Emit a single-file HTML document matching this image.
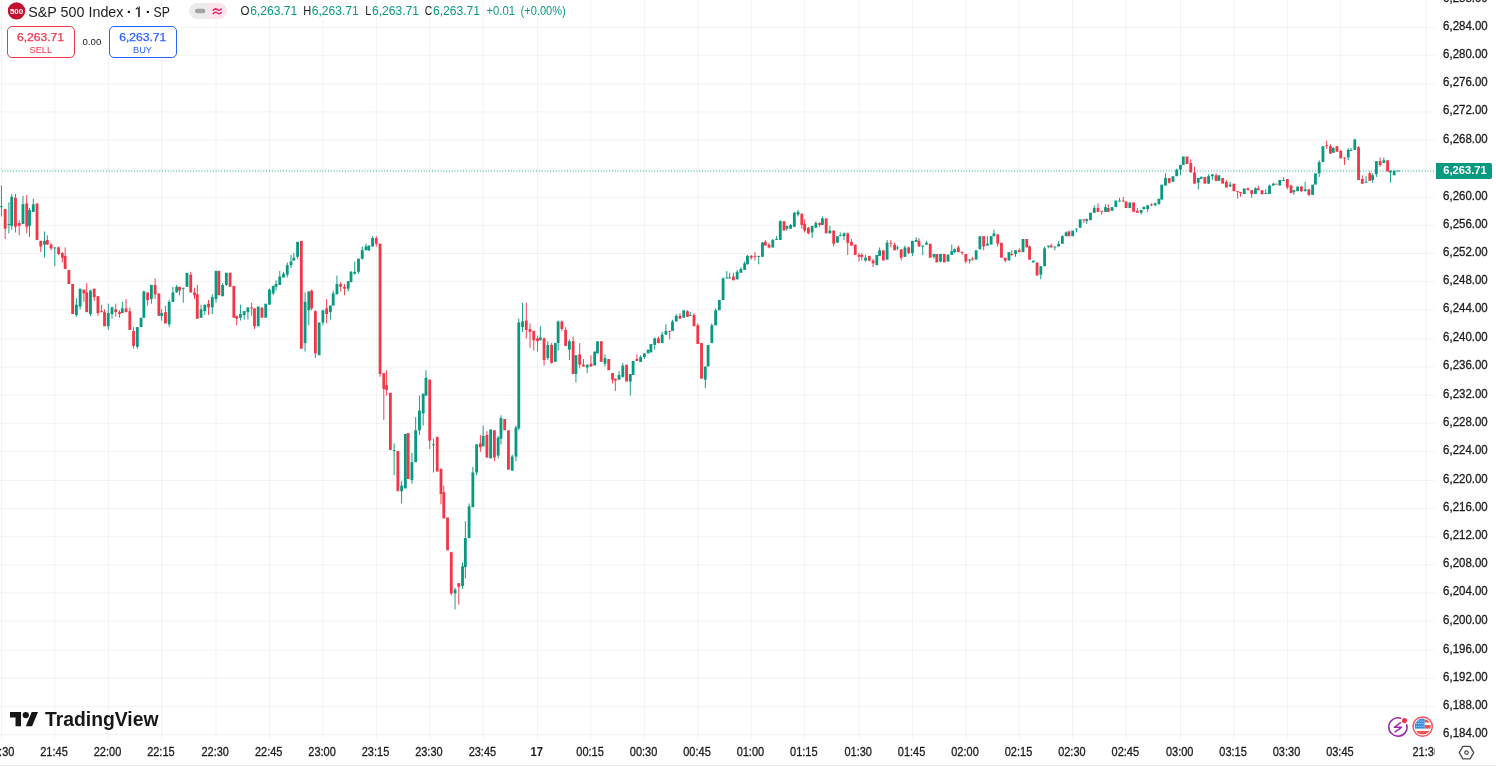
<!DOCTYPE html><html><head><meta charset="utf-8"><title>S&amp;P 500 Index chart</title><style>html,body{margin:0;padding:0;background:#fff;width:1496px;height:767px;overflow:hidden}</style></head><body><svg width="1496" height="767" viewBox="0 0 1496 767" style="position:absolute;left:0;top:0;will-change:transform;font-family:'Liberation Sans',sans-serif">
<rect width="1496" height="767" fill="#fff"/>
<g transform="translate(0,-0.1) scale(0.93725,0.93765)">
<g fill="rgba(0,0,0,0.055)">
<rect x="0" y="783" width="1521" height="1"/>
<rect x="0" y="753" width="1521" height="1"/>
<rect x="0" y="723" width="1521" height="1"/>
<rect x="0" y="693" width="1521" height="1"/>
<rect x="0" y="662" width="1521" height="1"/>
<rect x="0" y="632" width="1521" height="1"/>
<rect x="0" y="602" width="1521" height="1"/>
<rect x="0" y="572" width="1521" height="1"/>
<rect x="0" y="542" width="1521" height="1"/>
<rect x="0" y="512" width="1521" height="1"/>
<rect x="0" y="481" width="1521" height="1"/>
<rect x="0" y="451" width="1521" height="1"/>
<rect x="0" y="421" width="1521" height="1"/>
<rect x="0" y="391" width="1521" height="1"/>
<rect x="0" y="361" width="1521" height="1"/>
<rect x="0" y="330" width="1521" height="1"/>
<rect x="0" y="300" width="1521" height="1"/>
<rect x="0" y="270" width="1521" height="1"/>
<rect x="0" y="240" width="1521" height="1"/>
<rect x="0" y="210" width="1521" height="1"/>
<rect x="0" y="180" width="1521" height="1"/>
<rect x="0" y="149" width="1521" height="1"/>
<rect x="0" y="119" width="1521" height="1"/>
<rect x="0" y="89" width="1521" height="1"/>
<rect x="0" y="59" width="1521" height="1"/>
<rect x="0" y="29" width="1521" height="1"/>
<rect x="1" y="0" width="1" height="788"/>
<rect x="58" y="0" width="1" height="788"/>
<rect x="115" y="0" width="1" height="788"/>
<rect x="172" y="0" width="1" height="788"/>
<rect x="230" y="0" width="1" height="788"/>
<rect x="287" y="0" width="1" height="788"/>
<rect x="344" y="0" width="1" height="788"/>
<rect x="401" y="0" width="1" height="788"/>
<rect x="458" y="0" width="1" height="788"/>
<rect x="515" y="0" width="1" height="788"/>
<rect x="573" y="0" width="1" height="788"/>
<rect x="630" y="0" width="1" height="788"/>
<rect x="687" y="0" width="1" height="788"/>
<rect x="744" y="0" width="1" height="788"/>
<rect x="801" y="0" width="1" height="788"/>
<rect x="858" y="0" width="1" height="788"/>
<rect x="916" y="0" width="1" height="788"/>
<rect x="973" y="0" width="1" height="788"/>
<rect x="1030" y="0" width="1" height="788"/>
<rect x="1087" y="0" width="1" height="788"/>
<rect x="1144" y="0" width="1" height="788"/>
<rect x="1201" y="0" width="1" height="788"/>
<rect x="1259" y="0" width="1" height="788"/>
<rect x="1316" y="0" width="1" height="788"/>
<rect x="1373" y="0" width="1" height="788"/>
<rect x="1430" y="0" width="1" height="788"/>
<rect x="1521" y="0" width="1" height="788"/>
<rect x="1522" y="783" width="8.5" height="1"/>
<rect x="1522" y="753" width="8.5" height="1"/>
<rect x="1522" y="723" width="8.5" height="1"/>
<rect x="1522" y="693" width="8.5" height="1"/>
<rect x="1522" y="662" width="8.5" height="1"/>
<rect x="1522" y="632" width="8.5" height="1"/>
<rect x="1522" y="602" width="8.5" height="1"/>
<rect x="1522" y="572" width="8.5" height="1"/>
<rect x="1522" y="542" width="8.5" height="1"/>
<rect x="1522" y="512" width="8.5" height="1"/>
<rect x="1522" y="481" width="8.5" height="1"/>
<rect x="1522" y="451" width="8.5" height="1"/>
<rect x="1522" y="421" width="8.5" height="1"/>
<rect x="1522" y="391" width="8.5" height="1"/>
<rect x="1522" y="361" width="8.5" height="1"/>
<rect x="1522" y="330" width="8.5" height="1"/>
<rect x="1522" y="300" width="8.5" height="1"/>
<rect x="1522" y="270" width="8.5" height="1"/>
<rect x="1522" y="240" width="8.5" height="1"/>
<rect x="1522" y="210" width="8.5" height="1"/>
<rect x="1522" y="180" width="8.5" height="1"/>
<rect x="1522" y="149" width="8.5" height="1"/>
<rect x="1522" y="119" width="8.5" height="1"/>
<rect x="1522" y="89" width="8.5" height="1"/>
<rect x="1522" y="59" width="8.5" height="1"/>
<rect x="1522" y="29" width="8.5" height="1"/>
</g>
<rect x="0" y="816" width="1600" height="1" fill="#E6E6E6"/>
<line x1="0" y1="182.5" x2="1530" y2="182.5" stroke="#089981" stroke-width="1" stroke-dasharray="1 2" stroke-dashoffset="1"/>
<g>
<rect x="1" y="198" width="1" height="33" fill="#089981"/><rect x="0" y="220" width="3" height="1" fill="#089981"/>
<rect x="5" y="223" width="1" height="32" fill="#F23645"/><rect x="4" y="223" width="3" height="21" fill="#F23645"/>
<rect x="9" y="216" width="1" height="33" fill="#089981"/><rect x="8" y="239" width="3" height="1" fill="#089981"/>
<rect x="12" y="207" width="1" height="38" fill="#089981"/><rect x="11" y="210" width="3" height="31" fill="#089981"/>
<rect x="16" y="207" width="1" height="41" fill="#F23645"/><rect x="15" y="211" width="3" height="31" fill="#F23645"/>
<rect x="20" y="235" width="1" height="16" fill="#F23645"/><rect x="19" y="238" width="3" height="3" fill="#F23645"/>
<rect x="24" y="209" width="1" height="30" fill="#089981"/><rect x="23" y="218" width="3" height="21" fill="#089981"/>
<rect x="28" y="208" width="1" height="41" fill="#F23645"/><rect x="27" y="217" width="3" height="25" fill="#F23645"/>
<rect x="31" y="222" width="1" height="31" fill="#089981"/><rect x="30" y="224" width="3" height="17" fill="#089981"/>
<rect x="35" y="212" width="1" height="14" fill="#089981"/><rect x="34" y="218" width="3" height="8" fill="#089981"/>
<rect x="38" y="217" width="3" height="39" fill="#F23645"/>
<rect x="43" y="257" width="1" height="12" fill="#F23645"/><rect x="42" y="257" width="3" height="6" fill="#F23645"/>
<rect x="47" y="247" width="1" height="28" fill="#089981"/><rect x="46" y="257" width="3" height="4" fill="#089981"/>
<rect x="50" y="251" width="1" height="10" fill="#F23645"/><rect x="49" y="256" width="3" height="5" fill="#F23645"/>
<rect x="54" y="259" width="1" height="8" fill="#F23645"/><rect x="53" y="261" width="3" height="4" fill="#F23645"/>
<rect x="58" y="264" width="1" height="20" fill="#089981"/><rect x="57" y="264" width="3" height="1" fill="#089981"/>
<rect x="62" y="263" width="1" height="9" fill="#F23645"/><rect x="61" y="264" width="3" height="7" fill="#F23645"/>
<rect x="66" y="269" width="1" height="11" fill="#F23645"/><rect x="65" y="270" width="3" height="5" fill="#F23645"/>
<rect x="69" y="264" width="1" height="23" fill="#F23645"/><rect x="68" y="273" width="3" height="14" fill="#F23645"/>
<rect x="72" y="288" width="3" height="15" fill="#F23645"/>
<rect x="76" y="303" width="3" height="32" fill="#F23645"/>
<rect x="81" y="318" width="1" height="20" fill="#089981"/><rect x="80" y="325" width="3" height="11" fill="#089981"/>
<rect x="85" y="308" width="1" height="22" fill="#089981"/><rect x="84" y="308" width="3" height="19" fill="#089981"/>
<rect x="89" y="309" width="1" height="13" fill="#F23645"/><rect x="88" y="309" width="3" height="4" fill="#F23645"/>
<rect x="92" y="302" width="1" height="31" fill="#F23645"/><rect x="91" y="312" width="3" height="21" fill="#F23645"/>
<rect x="96" y="309" width="1" height="28" fill="#089981"/><rect x="95" y="310" width="3" height="25" fill="#089981"/>
<rect x="100" y="308" width="1" height="13" fill="#F23645"/><rect x="99" y="308" width="3" height="9" fill="#F23645"/>
<rect x="104" y="316" width="1" height="21" fill="#F23645"/><rect x="103" y="316" width="3" height="18" fill="#F23645"/>
<rect x="108" y="325" width="1" height="8" fill="#F23645"/><rect x="107" y="332" width="3" height="1" fill="#F23645"/>
<rect x="111" y="330" width="1" height="18" fill="#F23645"/><rect x="110" y="333" width="3" height="15" fill="#F23645"/>
<rect x="115" y="324" width="1" height="28" fill="#089981"/><rect x="114" y="334" width="3" height="14" fill="#089981"/>
<rect x="119" y="327" width="1" height="13" fill="#089981"/><rect x="118" y="328" width="3" height="7" fill="#089981"/>
<rect x="123" y="324" width="1" height="14" fill="#F23645"/><rect x="122" y="330" width="3" height="3" fill="#F23645"/>
<rect x="127" y="331" width="1" height="8" fill="#F23645"/><rect x="126" y="333" width="3" height="2" fill="#F23645"/>
<rect x="130" y="322" width="1" height="12" fill="#089981"/><rect x="129" y="329" width="3" height="5" fill="#089981"/>
<rect x="134" y="319" width="1" height="14" fill="#F23645"/><rect x="133" y="329" width="3" height="4" fill="#F23645"/>
<rect x="138" y="328" width="1" height="24" fill="#F23645"/><rect x="137" y="332" width="3" height="20" fill="#F23645"/>
<rect x="142" y="349" width="1" height="23" fill="#F23645"/><rect x="141" y="353" width="3" height="16" fill="#F23645"/>
<rect x="146" y="349" width="1" height="23" fill="#089981"/><rect x="145" y="349" width="3" height="21" fill="#089981"/>
<rect x="149" y="339" width="3" height="10" fill="#089981"/>
<rect x="153" y="310" width="1" height="29" fill="#089981"/><rect x="152" y="311" width="3" height="28" fill="#089981"/>
<rect x="157" y="312" width="1" height="14" fill="#F23645"/><rect x="156" y="312" width="3" height="8" fill="#F23645"/>
<rect x="161" y="304" width="1" height="20" fill="#089981"/><rect x="160" y="304" width="3" height="15" fill="#089981"/>
<rect x="165" y="297" width="1" height="22" fill="#F23645"/><rect x="164" y="304" width="3" height="10" fill="#F23645"/>
<rect x="168" y="313" width="3" height="24" fill="#F23645"/>
<rect x="172" y="330" width="1" height="12" fill="#089981"/><rect x="171" y="334" width="3" height="3" fill="#089981"/>
<rect x="176" y="326" width="1" height="19" fill="#F23645"/><rect x="175" y="333" width="3" height="12" fill="#F23645"/>
<rect x="180" y="320" width="1" height="29" fill="#089981"/><rect x="179" y="322" width="3" height="24" fill="#089981"/>
<rect x="184" y="306" width="1" height="16" fill="#089981"/><rect x="183" y="312" width="3" height="10" fill="#089981"/>
<rect x="188" y="304" width="1" height="8" fill="#089981"/><rect x="187" y="306" width="3" height="6" fill="#089981"/>
<rect x="191" y="306" width="1" height="9" fill="#F23645"/><rect x="190" y="306" width="3" height="4" fill="#F23645"/>
<rect x="195" y="307" width="1" height="16" fill="#089981"/><rect x="194" y="307" width="3" height="1" fill="#089981"/>
<rect x="198" y="291" width="3" height="15" fill="#089981"/>
<rect x="203" y="290" width="1" height="22" fill="#F23645"/><rect x="202" y="293" width="3" height="19" fill="#F23645"/>
<rect x="207" y="307" width="1" height="12" fill="#F23645"/><rect x="206" y="312" width="3" height="3" fill="#F23645"/>
<rect x="210" y="304" width="1" height="36" fill="#F23645"/><rect x="209" y="314" width="3" height="26" fill="#F23645"/>
<rect x="214" y="325" width="1" height="14" fill="#089981"/><rect x="213" y="330" width="3" height="9" fill="#089981"/>
<rect x="218" y="325" width="1" height="11" fill="#089981"/><rect x="217" y="325" width="3" height="7" fill="#089981"/>
<rect x="222" y="320" width="1" height="16" fill="#F23645"/><rect x="221" y="324" width="3" height="4" fill="#F23645"/>
<rect x="226" y="314" width="1" height="21" fill="#089981"/><rect x="225" y="317" width="3" height="11" fill="#089981"/>
<rect x="230" y="289" width="1" height="34" fill="#089981"/><rect x="229" y="289" width="3" height="30" fill="#089981"/>
<rect x="232" y="289" width="3" height="26" fill="#F23645"/>
<rect x="237" y="302" width="1" height="14" fill="#089981"/><rect x="236" y="304" width="3" height="12" fill="#089981"/>
<rect x="241" y="291" width="1" height="14" fill="#089981"/><rect x="240" y="291" width="3" height="13" fill="#089981"/>
<rect x="244" y="291" width="3" height="15" fill="#F23645"/>
<rect x="248" y="305" width="3" height="34" fill="#F23645"/>
<rect x="252" y="337" width="1" height="10" fill="#F23645"/><rect x="251" y="337" width="3" height="3" fill="#F23645"/>
<rect x="256" y="325" width="1" height="17" fill="#089981"/><rect x="255" y="335" width="3" height="4" fill="#089981"/>
<rect x="260" y="332" width="1" height="9" fill="#089981"/><rect x="259" y="332" width="3" height="4" fill="#089981"/>
<rect x="264" y="328" width="1" height="13" fill="#089981"/><rect x="263" y="328" width="3" height="5" fill="#089981"/>
<rect x="268" y="323" width="1" height="14" fill="#F23645"/><rect x="267" y="328" width="3" height="1" fill="#F23645"/>
<rect x="271" y="329" width="1" height="22" fill="#F23645"/><rect x="270" y="329" width="3" height="19" fill="#F23645"/>
<rect x="274" y="327" width="3" height="21" fill="#089981"/>
<rect x="278" y="328" width="3" height="11" fill="#F23645"/>
<rect x="282" y="324" width="3" height="15" fill="#089981"/>
<rect x="287" y="308" width="1" height="17" fill="#089981"/><rect x="286" y="309" width="3" height="16" fill="#089981"/>
<rect x="291" y="305" width="1" height="10" fill="#089981"/><rect x="290" y="305" width="3" height="8" fill="#089981"/>
<rect x="294" y="299" width="1" height="11" fill="#089981"/><rect x="293" y="303" width="3" height="3" fill="#089981"/>
<rect x="298" y="289" width="1" height="15" fill="#089981"/><rect x="297" y="295" width="3" height="9" fill="#089981"/>
<rect x="302" y="290" width="1" height="6" fill="#089981"/><rect x="301" y="292" width="3" height="4" fill="#089981"/>
<rect x="306" y="280" width="1" height="16" fill="#089981"/><rect x="305" y="283" width="3" height="10" fill="#089981"/>
<rect x="310" y="272" width="1" height="14" fill="#089981"/><rect x="309" y="279" width="3" height="4" fill="#089981"/>
<rect x="313" y="270" width="1" height="8" fill="#089981"/><rect x="312" y="275" width="3" height="3" fill="#089981"/>
<rect x="317" y="258" width="1" height="18" fill="#089981"/><rect x="316" y="258" width="3" height="16" fill="#089981"/>
<rect x="320" y="257" width="3" height="115" fill="#F23645"/>
<rect x="325" y="312" width="1" height="63" fill="#089981"/><rect x="324" y="322" width="3" height="44" fill="#089981"/>
<rect x="329" y="311" width="1" height="36" fill="#089981"/><rect x="328" y="311" width="3" height="20" fill="#089981"/>
<rect x="332" y="309" width="1" height="22" fill="#F23645"/><rect x="331" y="310" width="3" height="19" fill="#F23645"/>
<rect x="336" y="331" width="1" height="51" fill="#F23645"/><rect x="335" y="332" width="3" height="45" fill="#F23645"/>
<rect x="339" y="344" width="3" height="35" fill="#089981"/>
<rect x="344" y="331" width="1" height="16" fill="#089981"/><rect x="343" y="331" width="3" height="13" fill="#089981"/>
<rect x="348" y="319" width="1" height="26" fill="#F23645"/><rect x="347" y="329" width="3" height="6" fill="#F23645"/>
<rect x="352" y="326" width="1" height="15" fill="#089981"/><rect x="351" y="326" width="3" height="7" fill="#089981"/>
<rect x="355" y="310" width="1" height="16" fill="#089981"/><rect x="354" y="313" width="3" height="13" fill="#089981"/>
<rect x="359" y="294" width="1" height="20" fill="#089981"/><rect x="358" y="303" width="3" height="11" fill="#089981"/>
<rect x="363" y="301" width="1" height="10" fill="#F23645"/><rect x="362" y="303" width="3" height="3" fill="#F23645"/>
<rect x="367" y="303" width="1" height="12" fill="#F23645"/><rect x="366" y="306" width="3" height="2" fill="#F23645"/>
<rect x="371" y="300" width="1" height="11" fill="#089981"/><rect x="370" y="300" width="3" height="8" fill="#089981"/>
<rect x="374" y="289" width="1" height="12" fill="#089981"/><rect x="373" y="290" width="3" height="11" fill="#089981"/>
<rect x="378" y="279" width="1" height="14" fill="#089981"/><rect x="377" y="290" width="3" height="2" fill="#089981"/>
<rect x="382" y="276" width="1" height="16" fill="#089981"/><rect x="381" y="276" width="3" height="14" fill="#089981"/>
<rect x="386" y="263" width="1" height="14" fill="#089981"/><rect x="385" y="267" width="3" height="9" fill="#089981"/>
<rect x="390" y="260" width="1" height="7" fill="#089981"/><rect x="389" y="263" width="3" height="4" fill="#089981"/>
<rect x="393" y="262" width="1" height="6" fill="#089981"/><rect x="392" y="262" width="3" height="5" fill="#089981"/>
<rect x="397" y="252" width="1" height="11" fill="#089981"/><rect x="396" y="254" width="3" height="9" fill="#089981"/>
<rect x="401" y="252" width="1" height="11" fill="#F23645"/><rect x="400" y="254" width="3" height="6" fill="#F23645"/>
<rect x="405" y="260" width="1" height="142" fill="#F23645"/><rect x="404" y="260" width="3" height="139" fill="#F23645"/>
<rect x="409" y="398" width="1" height="50" fill="#F23645"/><rect x="408" y="398" width="3" height="17" fill="#F23645"/>
<rect x="412" y="395" width="1" height="27" fill="#F23645"/><rect x="411" y="411" width="3" height="5" fill="#F23645"/>
<rect x="415" y="419" width="3" height="61" fill="#F23645"/>
<rect x="420" y="473" width="1" height="34" fill="#089981"/><rect x="419" y="480" width="3" height="1" fill="#089981"/>
<rect x="423" y="481" width="3" height="43" fill="#F23645"/>
<rect x="428" y="513" width="1" height="24" fill="#089981"/><rect x="427" y="518" width="3" height="6" fill="#089981"/>
<rect x="431" y="463" width="3" height="58" fill="#089981"/>
<rect x="434" y="462" width="3" height="49" fill="#F23645"/>
<rect x="439" y="483" width="1" height="33" fill="#089981"/><rect x="438" y="493" width="3" height="19" fill="#089981"/>
<rect x="443" y="445" width="1" height="48" fill="#089981"/><rect x="442" y="459" width="3" height="34" fill="#089981"/>
<rect x="447" y="422" width="1" height="42" fill="#089981"/><rect x="446" y="438" width="3" height="21" fill="#089981"/>
<rect x="451" y="420" width="1" height="34" fill="#089981"/><rect x="450" y="420" width="3" height="21" fill="#089981"/>
<rect x="454" y="395" width="1" height="27" fill="#089981"/><rect x="453" y="403" width="3" height="19" fill="#089981"/>
<rect x="458" y="405" width="1" height="74" fill="#F23645"/><rect x="457" y="405" width="3" height="65" fill="#F23645"/>
<rect x="462" y="468" width="1" height="36" fill="#089981"/><rect x="461" y="474" width="3" height="1" fill="#089981"/>
<rect x="465" y="466" width="3" height="37" fill="#F23645"/>
<rect x="470" y="500" width="1" height="38" fill="#F23645"/><rect x="469" y="500" width="3" height="27" fill="#F23645"/>
<rect x="473" y="518" width="1" height="35" fill="#F23645"/><rect x="472" y="525" width="3" height="28" fill="#F23645"/>
<rect x="476" y="552" width="3" height="35" fill="#F23645"/>
<rect x="481" y="589" width="1" height="46" fill="#F23645"/><rect x="480" y="589" width="3" height="44" fill="#F23645"/>
<rect x="485" y="627" width="1" height="23" fill="#089981"/><rect x="484" y="629" width="3" height="4" fill="#089981"/>
<rect x="489" y="622" width="1" height="23" fill="#F23645"/><rect x="488" y="622" width="3" height="4" fill="#F23645"/>
<rect x="493" y="600" width="1" height="28" fill="#089981"/><rect x="492" y="604" width="3" height="21" fill="#089981"/>
<rect x="496" y="556" width="1" height="61" fill="#089981"/><rect x="495" y="574" width="3" height="31" fill="#089981"/>
<rect x="500" y="537" width="1" height="37" fill="#089981"/><rect x="499" y="540" width="3" height="34" fill="#089981"/>
<rect x="504" y="498" width="1" height="43" fill="#089981"/><rect x="503" y="504" width="3" height="37" fill="#089981"/>
<rect x="508" y="474" width="1" height="33" fill="#089981"/><rect x="507" y="474" width="3" height="30" fill="#089981"/>
<rect x="512" y="464" width="1" height="18" fill="#F23645"/><rect x="511" y="473" width="3" height="4" fill="#F23645"/>
<rect x="515" y="454" width="1" height="22" fill="#089981"/><rect x="514" y="465" width="3" height="11" fill="#089981"/>
<rect x="519" y="460" width="1" height="28" fill="#F23645"/><rect x="518" y="464" width="3" height="24" fill="#F23645"/>
<rect x="522" y="458" width="3" height="31" fill="#089981"/>
<rect x="527" y="459" width="1" height="33" fill="#F23645"/><rect x="526" y="459" width="3" height="29" fill="#F23645"/>
<rect x="531" y="465" width="1" height="24" fill="#089981"/><rect x="530" y="467" width="3" height="19" fill="#089981"/>
<rect x="534" y="443" width="1" height="31" fill="#089981"/><rect x="533" y="446" width="3" height="22" fill="#089981"/>
<rect x="537" y="447" width="3" height="12" fill="#F23645"/>
<rect x="541" y="459" width="3" height="42" fill="#F23645"/>
<rect x="546" y="485" width="1" height="17" fill="#089981"/><rect x="545" y="487" width="3" height="15" fill="#089981"/>
<rect x="550" y="454" width="1" height="38" fill="#089981"/><rect x="549" y="456" width="3" height="31" fill="#089981"/>
<rect x="553" y="340" width="1" height="119" fill="#089981"/><rect x="552" y="344" width="3" height="113" fill="#089981"/>
<rect x="557" y="323" width="1" height="31" fill="#089981"/><rect x="556" y="343" width="3" height="6" fill="#089981"/>
<rect x="561" y="323" width="1" height="38" fill="#F23645"/><rect x="560" y="342" width="3" height="10" fill="#F23645"/>
<rect x="565" y="345" width="1" height="26" fill="#F23645"/><rect x="564" y="351" width="3" height="3" fill="#F23645"/>
<rect x="569" y="353" width="1" height="21" fill="#F23645"/><rect x="568" y="353" width="3" height="10" fill="#F23645"/>
<rect x="573" y="358" width="1" height="17" fill="#F23645"/><rect x="572" y="361" width="3" height="3" fill="#F23645"/>
<rect x="576" y="348" width="1" height="15" fill="#089981"/><rect x="575" y="360" width="3" height="3" fill="#089981"/>
<rect x="580" y="360" width="1" height="30" fill="#F23645"/><rect x="579" y="361" width="3" height="23" fill="#F23645"/>
<rect x="584" y="364" width="1" height="20" fill="#089981"/><rect x="583" y="368" width="3" height="14" fill="#089981"/>
<rect x="588" y="366" width="1" height="22" fill="#F23645"/><rect x="587" y="368" width="3" height="19" fill="#F23645"/>
<rect x="591" y="366" width="3" height="20" fill="#089981"/>
<rect x="595" y="342" width="1" height="32" fill="#089981"/><rect x="594" y="343" width="3" height="23" fill="#089981"/>
<rect x="599" y="342" width="1" height="11" fill="#F23645"/><rect x="598" y="343" width="3" height="8" fill="#F23645"/>
<rect x="603" y="349" width="1" height="20" fill="#F23645"/><rect x="602" y="352" width="3" height="17" fill="#F23645"/>
<rect x="607" y="362" width="1" height="22" fill="#089981"/><rect x="606" y="364" width="3" height="9" fill="#089981"/>
<rect x="611" y="359" width="1" height="40" fill="#F23645"/><rect x="610" y="364" width="3" height="35" fill="#F23645"/>
<rect x="614" y="379" width="1" height="29" fill="#089981"/><rect x="613" y="379" width="3" height="20" fill="#089981"/>
<rect x="618" y="366" width="1" height="27" fill="#F23645"/><rect x="617" y="378" width="3" height="11" fill="#F23645"/>
<rect x="622" y="383" width="1" height="8" fill="#F23645"/><rect x="621" y="389" width="3" height="2" fill="#F23645"/>
<rect x="626" y="389" width="1" height="9" fill="#089981"/><rect x="625" y="389" width="3" height="3" fill="#089981"/>
<rect x="630" y="379" width="1" height="12" fill="#F23645"/><rect x="629" y="388" width="3" height="3" fill="#F23645"/>
<rect x="633" y="375" width="3" height="15" fill="#089981"/>
<rect x="636" y="364" width="3" height="13" fill="#089981"/>
<rect x="640" y="364" width="3" height="22" fill="#F23645"/>
<rect x="645" y="378" width="1" height="13" fill="#089981"/><rect x="644" y="382" width="3" height="6" fill="#089981"/>
<rect x="648" y="383" width="3" height="12" fill="#F23645"/>
<rect x="653" y="398" width="1" height="11" fill="#F23645"/><rect x="652" y="398" width="3" height="7" fill="#F23645"/>
<rect x="656" y="404" width="1" height="13" fill="#F23645"/><rect x="655" y="404" width="3" height="2" fill="#F23645"/>
<rect x="660" y="396" width="1" height="9" fill="#089981"/><rect x="659" y="400" width="3" height="5" fill="#089981"/>
<rect x="664" y="387" width="1" height="16" fill="#089981"/><rect x="663" y="390" width="3" height="12" fill="#089981"/>
<rect x="667" y="389" width="3" height="18" fill="#F23645"/>
<rect x="672" y="399" width="1" height="23" fill="#089981"/><rect x="671" y="399" width="3" height="8" fill="#089981"/>
<rect x="674" y="385" width="3" height="15" fill="#089981"/>
<rect x="679" y="378" width="1" height="7" fill="#F23645"/><rect x="678" y="383" width="3" height="2" fill="#F23645"/>
<rect x="683" y="379" width="1" height="7" fill="#089981"/><rect x="682" y="381" width="3" height="5" fill="#089981"/>
<rect x="687" y="377" width="1" height="6" fill="#089981"/><rect x="686" y="377" width="3" height="4" fill="#089981"/>
<rect x="690" y="373" width="3" height="4" fill="#089981"/>
<rect x="693" y="367" width="3" height="9" fill="#089981"/>
<rect x="698" y="360" width="1" height="13" fill="#089981"/><rect x="697" y="361" width="3" height="7" fill="#089981"/>
<rect x="702" y="359" width="1" height="7" fill="#F23645"/><rect x="701" y="361" width="3" height="5" fill="#F23645"/>
<rect x="706" y="354" width="1" height="12" fill="#089981"/><rect x="705" y="357" width="3" height="9" fill="#089981"/>
<rect x="710" y="346" width="1" height="11" fill="#089981"/><rect x="709" y="353" width="3" height="4" fill="#089981"/>
<rect x="714" y="353" width="1" height="9" fill="#F23645"/><rect x="713" y="353" width="3" height="1" fill="#F23645"/>
<rect x="717" y="341" width="1" height="12" fill="#089981"/><rect x="716" y="343" width="3" height="10" fill="#089981"/>
<rect x="721" y="335" width="1" height="8" fill="#089981"/><rect x="720" y="337" width="3" height="6" fill="#089981"/>
<rect x="725" y="334" width="1" height="6" fill="#F23645"/><rect x="724" y="337" width="3" height="3" fill="#F23645"/>
<rect x="728" y="331" width="3" height="8" fill="#089981"/>
<rect x="733" y="331" width="1" height="7" fill="#F23645"/><rect x="732" y="332" width="3" height="6" fill="#F23645"/>
<rect x="736" y="333" width="1" height="4" fill="#089981"/><rect x="735" y="336" width="3" height="1" fill="#089981"/>
<rect x="740" y="334" width="1" height="14" fill="#F23645"/><rect x="739" y="336" width="3" height="12" fill="#F23645"/>
<rect x="744" y="345" width="1" height="22" fill="#F23645"/><rect x="743" y="347" width="3" height="20" fill="#F23645"/>
<rect x="747" y="366" width="3" height="38" fill="#F23645"/>
<rect x="752" y="391" width="1" height="23" fill="#089981"/><rect x="751" y="391" width="3" height="14" fill="#089981"/>
<rect x="754" y="368" width="3" height="23" fill="#089981"/>
<rect x="759" y="345" width="1" height="21" fill="#089981"/><rect x="758" y="347" width="3" height="19" fill="#089981"/>
<rect x="763" y="329" width="1" height="18" fill="#089981"/><rect x="762" y="331" width="3" height="16" fill="#089981"/>
<rect x="766" y="320" width="3" height="11" fill="#089981"/>
<rect x="771" y="296" width="1" height="24" fill="#089981"/><rect x="770" y="297" width="3" height="23" fill="#089981"/>
<rect x="775" y="289" width="1" height="8" fill="#089981"/><rect x="774" y="296" width="3" height="1" fill="#089981"/>
<rect x="778" y="291" width="1" height="6" fill="#089981"/><rect x="777" y="296" width="3" height="1" fill="#089981"/>
<rect x="782" y="291" width="1" height="8" fill="#F23645"/><rect x="781" y="295" width="3" height="4" fill="#F23645"/>
<rect x="786" y="288" width="1" height="10" fill="#089981"/><rect x="785" y="290" width="3" height="8" fill="#089981"/>
<rect x="790" y="285" width="1" height="6" fill="#089981"/><rect x="789" y="287" width="3" height="4" fill="#089981"/>
<rect x="794" y="279" width="1" height="9" fill="#089981"/><rect x="793" y="281" width="3" height="7" fill="#089981"/>
<rect x="797" y="272" width="1" height="10" fill="#089981"/><rect x="796" y="273" width="3" height="9" fill="#089981"/>
<rect x="801" y="272" width="1" height="5" fill="#F23645"/><rect x="800" y="273" width="3" height="2" fill="#F23645"/>
<rect x="805" y="269" width="1" height="9" fill="#F23645"/><rect x="804" y="273" width="3" height="1" fill="#F23645"/>
<rect x="809" y="273" width="1" height="9" fill="#089981"/><rect x="808" y="273" width="3" height="1" fill="#089981"/>
<rect x="813" y="258" width="1" height="16" fill="#089981"/><rect x="812" y="259" width="3" height="15" fill="#089981"/>
<rect x="816" y="256" width="1" height="6" fill="#F23645"/><rect x="815" y="258" width="3" height="4" fill="#F23645"/>
<rect x="820" y="259" width="1" height="6" fill="#F23645"/><rect x="819" y="261" width="3" height="3" fill="#F23645"/>
<rect x="824" y="255" width="1" height="9" fill="#089981"/><rect x="823" y="256" width="3" height="8" fill="#089981"/>
<rect x="828" y="252" width="1" height="4" fill="#089981"/><rect x="827" y="255" width="3" height="1" fill="#089981"/>
<rect x="832" y="235" width="1" height="21" fill="#089981"/><rect x="831" y="236" width="3" height="20" fill="#089981"/>
<rect x="835" y="236" width="3" height="10" fill="#F23645"/>
<rect x="839" y="241" width="1" height="5" fill="#089981"/><rect x="838" y="241" width="3" height="3" fill="#089981"/>
<rect x="843" y="239" width="1" height="5" fill="#089981"/><rect x="842" y="240" width="3" height="4" fill="#089981"/>
<rect x="847" y="226" width="1" height="16" fill="#089981"/><rect x="846" y="227" width="3" height="15" fill="#089981"/>
<rect x="851" y="224" width="1" height="7" fill="#089981"/><rect x="850" y="226" width="3" height="3" fill="#089981"/>
<rect x="855" y="228" width="1" height="16" fill="#F23645"/><rect x="854" y="228" width="3" height="12" fill="#F23645"/>
<rect x="858" y="234" width="1" height="14" fill="#F23645"/><rect x="857" y="239" width="3" height="7" fill="#F23645"/>
<rect x="862" y="242" width="1" height="8" fill="#F23645"/><rect x="861" y="243" width="3" height="6" fill="#F23645"/>
<rect x="866" y="241" width="1" height="13" fill="#089981"/><rect x="865" y="241" width="3" height="7" fill="#089981"/>
<rect x="870" y="236" width="1" height="7" fill="#089981"/><rect x="869" y="238" width="3" height="5" fill="#089981"/>
<rect x="874" y="237" width="1" height="5" fill="#F23645"/><rect x="873" y="238" width="3" height="2" fill="#F23645"/>
<rect x="877" y="231" width="1" height="9" fill="#089981"/><rect x="876" y="233" width="3" height="7" fill="#089981"/>
<rect x="880" y="233" width="3" height="16" fill="#F23645"/>
<rect x="885" y="241" width="1" height="8" fill="#089981"/><rect x="884" y="246" width="3" height="3" fill="#089981"/>
<rect x="889" y="246" width="1" height="17" fill="#F23645"/><rect x="888" y="246" width="3" height="14" fill="#F23645"/>
<rect x="892" y="252" width="3" height="7" fill="#089981"/>
<rect x="896" y="248" width="1" height="4" fill="#089981"/><rect x="895" y="251" width="3" height="1" fill="#089981"/>
<rect x="900" y="248" width="1" height="8" fill="#089981"/><rect x="899" y="249" width="3" height="3" fill="#089981"/>
<rect x="904" y="248" width="1" height="24" fill="#F23645"/><rect x="903" y="249" width="3" height="10" fill="#F23645"/>
<rect x="908" y="255" width="1" height="7" fill="#F23645"/><rect x="907" y="258" width="3" height="4" fill="#F23645"/>
<rect x="911" y="261" width="3" height="11" fill="#F23645"/>
<rect x="916" y="270" width="1" height="9" fill="#F23645"/><rect x="915" y="272" width="3" height="2" fill="#F23645"/>
<rect x="919" y="270" width="1" height="8" fill="#F23645"/><rect x="918" y="272" width="3" height="2" fill="#F23645"/>
<rect x="923" y="272" width="1" height="7" fill="#089981"/><rect x="922" y="275" width="3" height="3" fill="#089981"/>
<rect x="927" y="273" width="1" height="6" fill="#F23645"/><rect x="926" y="273" width="3" height="5" fill="#F23645"/>
<rect x="931" y="276" width="1" height="9" fill="#F23645"/><rect x="930" y="278" width="3" height="3" fill="#F23645"/>
<rect x="934" y="272" width="3" height="11" fill="#089981"/>
<rect x="938" y="264" width="1" height="9" fill="#089981"/><rect x="937" y="267" width="3" height="6" fill="#089981"/>
<rect x="941" y="267" width="3" height="11" fill="#F23645"/>
<rect x="946" y="256" width="1" height="21" fill="#089981"/><rect x="945" y="259" width="3" height="18" fill="#089981"/>
<rect x="950" y="256" width="1" height="8" fill="#F23645"/><rect x="949" y="259" width="3" height="1" fill="#F23645"/>
<rect x="954" y="259" width="1" height="8" fill="#F23645"/><rect x="953" y="261" width="3" height="6" fill="#F23645"/>
<rect x="957" y="262" width="1" height="5" fill="#089981"/><rect x="956" y="264" width="3" height="1" fill="#089981"/>
<rect x="961" y="266" width="1" height="12" fill="#F23645"/><rect x="960" y="266" width="3" height="9" fill="#F23645"/>
<rect x="965" y="262" width="1" height="12" fill="#089981"/><rect x="964" y="264" width="3" height="10" fill="#089981"/>
<rect x="969" y="263" width="1" height="8" fill="#F23645"/><rect x="968" y="264" width="3" height="6" fill="#F23645"/>
<rect x="973" y="257" width="1" height="16" fill="#089981"/><rect x="972" y="257" width="3" height="13" fill="#089981"/>
<rect x="977" y="253" width="1" height="5" fill="#089981"/><rect x="976" y="256" width="3" height="2" fill="#089981"/>
<rect x="980" y="254" width="1" height="9" fill="#F23645"/><rect x="979" y="257" width="3" height="6" fill="#F23645"/>
<rect x="984" y="262" width="1" height="10" fill="#089981"/><rect x="983" y="262" width="3" height="1" fill="#089981"/>
<rect x="988" y="257" width="1" height="4" fill="#089981"/><rect x="987" y="259" width="3" height="2" fill="#089981"/>
<rect x="991" y="260" width="3" height="15" fill="#F23645"/>
<rect x="996" y="271" width="1" height="5" fill="#089981"/><rect x="995" y="271" width="3" height="3" fill="#089981"/>
<rect x="998" y="271" width="3" height="9" fill="#F23645"/>
<rect x="1003" y="271" width="1" height="9" fill="#089981"/><rect x="1002" y="271" width="3" height="8" fill="#089981"/>
<rect x="1006" y="271" width="3" height="9" fill="#F23645"/>
<rect x="1011" y="271" width="1" height="8" fill="#089981"/><rect x="1010" y="272" width="3" height="7" fill="#089981"/>
<rect x="1015" y="261" width="1" height="11" fill="#089981"/><rect x="1014" y="268" width="3" height="4" fill="#089981"/>
<rect x="1018" y="265" width="1" height="5" fill="#089981"/><rect x="1017" y="266" width="3" height="3" fill="#089981"/>
<rect x="1022" y="262" width="1" height="7" fill="#F23645"/><rect x="1021" y="264" width="3" height="5" fill="#F23645"/>
<rect x="1026" y="268" width="1" height="4" fill="#F23645"/><rect x="1025" y="269" width="3" height="1" fill="#F23645"/>
<rect x="1030" y="271" width="1" height="10" fill="#F23645"/><rect x="1029" y="271" width="3" height="8" fill="#F23645"/>
<rect x="1034" y="276" width="1" height="5" fill="#089981"/><rect x="1033" y="277" width="3" height="1" fill="#089981"/>
<rect x="1037" y="274" width="1" height="4" fill="#F23645"/><rect x="1036" y="276" width="3" height="1" fill="#F23645"/>
<rect x="1040" y="267" width="3" height="10" fill="#089981"/>
<rect x="1044" y="252" width="3" height="14" fill="#089981"/>
<rect x="1049" y="252" width="1" height="15" fill="#F23645"/><rect x="1048" y="252" width="3" height="11" fill="#F23645"/>
<rect x="1053" y="252" width="1" height="10" fill="#089981"/><rect x="1052" y="260" width="3" height="2" fill="#089981"/>
<rect x="1056" y="252" width="3" height="9" fill="#089981"/>
<rect x="1060" y="245" width="1" height="7" fill="#089981"/><rect x="1059" y="249" width="3" height="3" fill="#089981"/>
<rect x="1064" y="250" width="1" height="13" fill="#F23645"/><rect x="1063" y="250" width="3" height="10" fill="#F23645"/>
<rect x="1067" y="259" width="3" height="16" fill="#F23645"/>
<rect x="1072" y="275" width="1" height="5" fill="#F23645"/><rect x="1071" y="275" width="3" height="3" fill="#F23645"/>
<rect x="1075" y="269" width="3" height="9" fill="#089981"/>
<rect x="1079" y="267" width="1" height="6" fill="#F23645"/><rect x="1078" y="271" width="3" height="1" fill="#F23645"/>
<rect x="1083" y="267" width="1" height="7" fill="#089981"/><rect x="1082" y="267" width="3" height="4" fill="#089981"/>
<rect x="1087" y="265" width="1" height="4" fill="#F23645"/><rect x="1086" y="267" width="3" height="2" fill="#F23645"/>
<rect x="1090" y="255" width="3" height="14" fill="#089981"/>
<rect x="1094" y="255" width="3" height="9" fill="#F23645"/>
<rect x="1098" y="262" width="1" height="15" fill="#F23645"/><rect x="1097" y="263" width="3" height="14" fill="#F23645"/>
<rect x="1101" y="278" width="3" height="2" fill="#089981"/>
<rect x="1105" y="280" width="3" height="14" fill="#F23645"/>
<rect x="1110" y="284" width="1" height="14" fill="#089981"/><rect x="1109" y="284" width="3" height="9" fill="#089981"/>
<rect x="1114" y="263" width="1" height="21" fill="#089981"/><rect x="1113" y="265" width="3" height="19" fill="#089981"/>
<rect x="1118" y="262" width="1" height="3" fill="#089981"/><rect x="1117" y="262" width="3" height="1" fill="#089981"/>
<rect x="1121" y="260" width="1" height="4" fill="#F23645"/><rect x="1120" y="262" width="3" height="2" fill="#F23645"/>
<rect x="1125" y="263" width="1" height="4" fill="#089981"/><rect x="1124" y="263" width="3" height="1" fill="#089981"/>
<rect x="1129" y="257" width="1" height="6" fill="#089981"/><rect x="1128" y="260" width="3" height="3" fill="#089981"/>
<rect x="1133" y="251" width="1" height="9" fill="#089981"/><rect x="1132" y="252" width="3" height="8" fill="#089981"/>
<rect x="1137" y="247" width="1" height="5" fill="#089981"/><rect x="1136" y="248" width="3" height="4" fill="#089981"/>
<rect x="1140" y="246" width="1" height="6" fill="#F23645"/><rect x="1139" y="247" width="3" height="5" fill="#F23645"/>
<rect x="1143" y="246" width="3" height="6" fill="#089981"/>
<rect x="1148" y="244" width="1" height="4" fill="#089981"/><rect x="1147" y="244" width="3" height="1" fill="#089981"/>
<rect x="1151" y="234" width="3" height="9" fill="#089981"/>
<rect x="1156" y="234" width="1" height="4" fill="#F23645"/><rect x="1155" y="234" width="3" height="1" fill="#F23645"/>
<rect x="1159" y="233" width="1" height="6" fill="#089981"/><rect x="1158" y="234" width="3" height="2" fill="#089981"/>
<rect x="1162" y="227" width="3" height="8" fill="#089981"/>
<rect x="1167" y="219" width="1" height="8" fill="#089981"/><rect x="1166" y="222" width="3" height="5" fill="#089981"/>
<rect x="1171" y="217" width="1" height="9" fill="#F23645"/><rect x="1170" y="222" width="3" height="4" fill="#F23645"/>
<rect x="1175" y="225" width="1" height="4" fill="#F23645"/><rect x="1174" y="225" width="3" height="1" fill="#F23645"/>
<rect x="1179" y="218" width="1" height="8" fill="#089981"/><rect x="1178" y="221" width="3" height="5" fill="#089981"/>
<rect x="1182" y="218" width="1" height="8" fill="#F23645"/><rect x="1181" y="222" width="3" height="4" fill="#F23645"/>
<rect x="1185" y="221" width="3" height="4" fill="#089981"/>
<rect x="1189" y="214" width="3" height="7" fill="#089981"/>
<rect x="1194" y="211" width="1" height="4" fill="#089981"/><rect x="1193" y="214" width="3" height="1" fill="#089981"/>
<rect x="1198" y="210" width="1" height="5" fill="#F23645"/><rect x="1197" y="214" width="3" height="1" fill="#F23645"/>
<rect x="1200" y="215" width="3" height="7" fill="#F23645"/>
<rect x="1204" y="216" width="3" height="6" fill="#089981"/>
<rect x="1208" y="216" width="3" height="10" fill="#F23645"/>
<rect x="1213" y="222" width="1" height="5" fill="#F23645"/><rect x="1212" y="225" width="3" height="2" fill="#F23645"/>
<rect x="1217" y="224" width="1" height="5" fill="#089981"/><rect x="1216" y="224" width="3" height="3" fill="#089981"/>
<rect x="1220" y="220" width="1" height="4" fill="#089981"/><rect x="1219" y="221" width="3" height="2" fill="#089981"/>
<rect x="1224" y="219" width="1" height="7" fill="#089981"/><rect x="1223" y="219" width="3" height="4" fill="#089981"/>
<rect x="1228" y="217" width="1" height="3" fill="#F23645"/><rect x="1227" y="218" width="3" height="1" fill="#F23645"/>
<rect x="1232" y="216" width="1" height="4" fill="#089981"/><rect x="1231" y="217" width="3" height="2" fill="#089981"/>
<rect x="1235" y="212" width="3" height="6" fill="#089981"/>
<rect x="1238" y="197" width="3" height="16" fill="#089981"/>
<rect x="1243" y="185" width="1" height="13" fill="#089981"/><rect x="1242" y="190" width="3" height="8" fill="#089981"/>
<rect x="1247" y="190" width="1" height="6" fill="#F23645"/><rect x="1246" y="190" width="3" height="5" fill="#F23645"/>
<rect x="1250" y="188" width="3" height="6" fill="#089981"/>
<rect x="1255" y="180" width="1" height="8" fill="#089981"/><rect x="1254" y="181" width="3" height="7" fill="#089981"/>
<rect x="1259" y="176" width="1" height="11" fill="#089981"/><rect x="1258" y="176" width="3" height="5" fill="#089981"/>
<rect x="1261" y="167" width="3" height="9" fill="#089981"/>
<rect x="1265" y="167" width="3" height="8" fill="#F23645"/>
<rect x="1270" y="170" width="1" height="14" fill="#F23645"/><rect x="1269" y="174" width="3" height="10" fill="#F23645"/>
<rect x="1274" y="178" width="1" height="18" fill="#F23645"/><rect x="1273" y="184" width="3" height="12" fill="#F23645"/>
<rect x="1278" y="190" width="1" height="12" fill="#089981"/><rect x="1277" y="190" width="3" height="5" fill="#089981"/>
<rect x="1281" y="188" width="1" height="3" fill="#089981"/><rect x="1280" y="189" width="3" height="2" fill="#089981"/>
<rect x="1284" y="189" width="3" height="7" fill="#F23645"/>
<rect x="1289" y="186" width="1" height="10" fill="#089981"/><rect x="1288" y="188" width="3" height="8" fill="#089981"/>
<rect x="1293" y="186" width="1" height="6" fill="#089981"/><rect x="1292" y="186" width="3" height="2" fill="#089981"/>
<rect x="1297" y="185" width="1" height="8" fill="#F23645"/><rect x="1296" y="187" width="3" height="6" fill="#F23645"/>
<rect x="1299" y="187" width="3" height="6" fill="#089981"/>
<rect x="1303" y="190" width="3" height="6" fill="#F23645"/>
<rect x="1308" y="192" width="1" height="8" fill="#F23645"/><rect x="1307" y="194" width="3" height="6" fill="#F23645"/>
<rect x="1312" y="194" width="1" height="5" fill="#089981"/><rect x="1311" y="197" width="3" height="2" fill="#089981"/>
<rect x="1315" y="196" width="3" height="8" fill="#F23645"/>
<rect x="1320" y="204" width="1" height="8" fill="#F23645"/><rect x="1319" y="204" width="3" height="1" fill="#F23645"/>
<rect x="1323" y="205" width="1" height="5" fill="#F23645"/><rect x="1322" y="205" width="3" height="1" fill="#F23645"/>
<rect x="1326" y="201" width="3" height="6" fill="#089981"/>
<rect x="1331" y="200" width="1" height="3" fill="#F23645"/><rect x="1330" y="201" width="3" height="2" fill="#F23645"/>
<rect x="1335" y="203" width="1" height="8" fill="#F23645"/><rect x="1334" y="203" width="3" height="4" fill="#F23645"/>
<rect x="1339" y="200" width="1" height="7" fill="#089981"/><rect x="1338" y="201" width="3" height="6" fill="#089981"/>
<rect x="1342" y="198" width="1" height="5" fill="#F23645"/><rect x="1341" y="201" width="3" height="2" fill="#F23645"/>
<rect x="1346" y="203" width="1" height="5" fill="#F23645"/><rect x="1345" y="203" width="3" height="4" fill="#F23645"/>
<rect x="1350" y="202" width="1" height="5" fill="#089981"/><rect x="1349" y="206" width="3" height="1" fill="#089981"/>
<rect x="1354" y="197" width="1" height="10" fill="#089981"/><rect x="1353" y="198" width="3" height="9" fill="#089981"/>
<rect x="1358" y="195" width="1" height="3" fill="#089981"/><rect x="1357" y="196" width="3" height="2" fill="#089981"/>
<rect x="1360" y="196" width="3" height="1" fill="#F23645"/>
<rect x="1364" y="192" width="3" height="6" fill="#089981"/>
<rect x="1369" y="189" width="1" height="4" fill="#089981"/><rect x="1368" y="192" width="3" height="1" fill="#089981"/>
<rect x="1373" y="191" width="1" height="11" fill="#F23645"/><rect x="1372" y="191" width="3" height="9" fill="#F23645"/>
<rect x="1377" y="197" width="1" height="9" fill="#F23645"/><rect x="1376" y="198" width="3" height="8" fill="#F23645"/>
<rect x="1380" y="203" width="1" height="5" fill="#089981"/><rect x="1379" y="203" width="3" height="2" fill="#089981"/>
<rect x="1383" y="199" width="3" height="5" fill="#089981"/>
<rect x="1388" y="199" width="1" height="6" fill="#F23645"/><rect x="1387" y="199" width="3" height="5" fill="#F23645"/>
<rect x="1392" y="194" width="1" height="10" fill="#089981"/><rect x="1391" y="202" width="3" height="2" fill="#089981"/>
<rect x="1396" y="202" width="1" height="7" fill="#F23645"/><rect x="1395" y="202" width="3" height="6" fill="#F23645"/>
<rect x="1399" y="197" width="3" height="11" fill="#089981"/>
<rect x="1402" y="185" width="3" height="12" fill="#089981"/>
<rect x="1407" y="171" width="1" height="18" fill="#089981"/><rect x="1406" y="173" width="3" height="12" fill="#089981"/>
<rect x="1410" y="156" width="3" height="17" fill="#089981"/>
<rect x="1415" y="150" width="1" height="9" fill="#F23645"/><rect x="1414" y="155" width="3" height="1" fill="#F23645"/>
<rect x="1419" y="154" width="1" height="10" fill="#F23645"/><rect x="1418" y="156" width="3" height="8" fill="#F23645"/>
<rect x="1422" y="157" width="1" height="6" fill="#089981"/><rect x="1421" y="158" width="3" height="5" fill="#089981"/>
<rect x="1425" y="156" width="3" height="6" fill="#F23645"/>
<rect x="1430" y="160" width="1" height="9" fill="#F23645"/><rect x="1429" y="161" width="3" height="8" fill="#F23645"/>
<rect x="1434" y="168" width="1" height="8" fill="#F23645"/><rect x="1433" y="168" width="3" height="1" fill="#F23645"/>
<rect x="1438" y="158" width="1" height="13" fill="#089981"/><rect x="1437" y="160" width="3" height="8" fill="#089981"/>
<rect x="1441" y="158" width="1" height="3" fill="#089981"/><rect x="1440" y="160" width="3" height="1" fill="#089981"/>
<rect x="1445" y="148" width="1" height="12" fill="#089981"/><rect x="1444" y="149" width="3" height="11" fill="#089981"/>
<rect x="1449" y="156" width="1" height="36" fill="#F23645"/><rect x="1448" y="157" width="3" height="35" fill="#F23645"/>
<rect x="1453" y="187" width="1" height="9" fill="#F23645"/><rect x="1452" y="191" width="3" height="5" fill="#F23645"/>
<rect x="1457" y="188" width="1" height="7" fill="#089981"/><rect x="1456" y="194" width="3" height="1" fill="#089981"/>
<rect x="1461" y="183" width="1" height="10" fill="#F23645"/><rect x="1460" y="185" width="3" height="8" fill="#F23645"/>
<rect x="1464" y="185" width="1" height="10" fill="#089981"/><rect x="1463" y="187" width="3" height="5" fill="#089981"/>
<rect x="1468" y="172" width="1" height="17" fill="#089981"/><rect x="1467" y="172" width="3" height="14" fill="#089981"/>
<rect x="1472" y="168" width="1" height="10" fill="#F23645"/><rect x="1471" y="172" width="3" height="4" fill="#F23645"/>
<rect x="1476" y="168" width="1" height="6" fill="#089981"/><rect x="1475" y="171" width="3" height="3" fill="#089981"/>
<rect x="1479" y="171" width="3" height="12" fill="#F23645"/>
<rect x="1483" y="182" width="1" height="13" fill="#089981"/><rect x="1482" y="182" width="3" height="2" fill="#089981"/>
<rect x="1486" y="182" width="3" height="5" fill="#089981"/>
<rect x="1490" y="182" width="4" height="1" fill="#089981"/>
</g>
</g>
<text x="1443.1" y="737.00" font-size="12" fill="#1c1c1c" font-weight="normal" text-anchor="start" textLength="44.6" lengthAdjust="spacingAndGlyphs" stroke="#1c1c1c" stroke-width="0.3">6,184.00</text>
<text x="1443.1" y="708.87" font-size="12" fill="#1c1c1c" font-weight="normal" text-anchor="start" textLength="44.6" lengthAdjust="spacingAndGlyphs" stroke="#1c1c1c" stroke-width="0.3">6,188.00</text>
<text x="1443.1" y="680.74" font-size="12" fill="#1c1c1c" font-weight="normal" text-anchor="start" textLength="44.6" lengthAdjust="spacingAndGlyphs" stroke="#1c1c1c" stroke-width="0.3">6,192.00</text>
<text x="1443.1" y="652.61" font-size="12" fill="#1c1c1c" font-weight="normal" text-anchor="start" textLength="44.6" lengthAdjust="spacingAndGlyphs" stroke="#1c1c1c" stroke-width="0.3">6,196.00</text>
<text x="1443.1" y="623.54" font-size="12" fill="#1c1c1c" font-weight="normal" text-anchor="start" textLength="44.6" lengthAdjust="spacingAndGlyphs" stroke="#1c1c1c" stroke-width="0.3">6,200.00</text>
<text x="1443.1" y="595.41" font-size="12" fill="#1c1c1c" font-weight="normal" text-anchor="start" textLength="44.6" lengthAdjust="spacingAndGlyphs" stroke="#1c1c1c" stroke-width="0.3">6,204.00</text>
<text x="1443.1" y="567.28" font-size="12" fill="#1c1c1c" font-weight="normal" text-anchor="start" textLength="44.6" lengthAdjust="spacingAndGlyphs" stroke="#1c1c1c" stroke-width="0.3">6,208.00</text>
<text x="1443.1" y="539.15" font-size="12" fill="#1c1c1c" font-weight="normal" text-anchor="start" textLength="44.6" lengthAdjust="spacingAndGlyphs" stroke="#1c1c1c" stroke-width="0.3">6,212.00</text>
<text x="1443.1" y="511.03" font-size="12" fill="#1c1c1c" font-weight="normal" text-anchor="start" textLength="44.6" lengthAdjust="spacingAndGlyphs" stroke="#1c1c1c" stroke-width="0.3">6,216.00</text>
<text x="1443.1" y="482.90" font-size="12" fill="#1c1c1c" font-weight="normal" text-anchor="start" textLength="44.6" lengthAdjust="spacingAndGlyphs" stroke="#1c1c1c" stroke-width="0.3">6,220.00</text>
<text x="1443.1" y="453.83" font-size="12" fill="#1c1c1c" font-weight="normal" text-anchor="start" textLength="44.6" lengthAdjust="spacingAndGlyphs" stroke="#1c1c1c" stroke-width="0.3">6,224.00</text>
<text x="1443.1" y="425.70" font-size="12" fill="#1c1c1c" font-weight="normal" text-anchor="start" textLength="44.6" lengthAdjust="spacingAndGlyphs" stroke="#1c1c1c" stroke-width="0.3">6,228.00</text>
<text x="1443.1" y="397.57" font-size="12" fill="#1c1c1c" font-weight="normal" text-anchor="start" textLength="44.6" lengthAdjust="spacingAndGlyphs" stroke="#1c1c1c" stroke-width="0.3">6,232.00</text>
<text x="1443.1" y="369.44" font-size="12" fill="#1c1c1c" font-weight="normal" text-anchor="start" textLength="44.6" lengthAdjust="spacingAndGlyphs" stroke="#1c1c1c" stroke-width="0.3">6,236.00</text>
<text x="1443.1" y="341.31" font-size="12" fill="#1c1c1c" font-weight="normal" text-anchor="start" textLength="44.6" lengthAdjust="spacingAndGlyphs" stroke="#1c1c1c" stroke-width="0.3">6,240.00</text>
<text x="1443.1" y="312.24" font-size="12" fill="#1c1c1c" font-weight="normal" text-anchor="start" textLength="44.6" lengthAdjust="spacingAndGlyphs" stroke="#1c1c1c" stroke-width="0.3">6,244.00</text>
<text x="1443.1" y="284.11" font-size="12" fill="#1c1c1c" font-weight="normal" text-anchor="start" textLength="44.6" lengthAdjust="spacingAndGlyphs" stroke="#1c1c1c" stroke-width="0.3">6,248.00</text>
<text x="1443.1" y="255.98" font-size="12" fill="#1c1c1c" font-weight="normal" text-anchor="start" textLength="44.6" lengthAdjust="spacingAndGlyphs" stroke="#1c1c1c" stroke-width="0.3">6,252.00</text>
<text x="1443.1" y="227.85" font-size="12" fill="#1c1c1c" font-weight="normal" text-anchor="start" textLength="44.6" lengthAdjust="spacingAndGlyphs" stroke="#1c1c1c" stroke-width="0.3">6,256.00</text>
<text x="1443.1" y="199.73" font-size="12" fill="#1c1c1c" font-weight="normal" text-anchor="start" textLength="44.6" lengthAdjust="spacingAndGlyphs" stroke="#1c1c1c" stroke-width="0.3">6,260.00</text>
<text x="1443.1" y="142.53" font-size="12" fill="#1c1c1c" font-weight="normal" text-anchor="start" textLength="44.6" lengthAdjust="spacingAndGlyphs" stroke="#1c1c1c" stroke-width="0.3">6,268.00</text>
<text x="1443.1" y="114.40" font-size="12" fill="#1c1c1c" font-weight="normal" text-anchor="start" textLength="44.6" lengthAdjust="spacingAndGlyphs" stroke="#1c1c1c" stroke-width="0.3">6,272.00</text>
<text x="1443.1" y="86.27" font-size="12" fill="#1c1c1c" font-weight="normal" text-anchor="start" textLength="44.6" lengthAdjust="spacingAndGlyphs" stroke="#1c1c1c" stroke-width="0.3">6,276.00</text>
<text x="1443.1" y="58.14" font-size="12" fill="#1c1c1c" font-weight="normal" text-anchor="start" textLength="44.6" lengthAdjust="spacingAndGlyphs" stroke="#1c1c1c" stroke-width="0.3">6,280.00</text>
<text x="1443.1" y="30.01" font-size="12" fill="#1c1c1c" font-weight="normal" text-anchor="start" textLength="44.6" lengthAdjust="spacingAndGlyphs" stroke="#1c1c1c" stroke-width="0.3">6,284.00</text>
<text x="1443.1" y="1.60" font-size="12" fill="#1c1c1c" font-weight="normal" text-anchor="start" textLength="44.6" lengthAdjust="spacingAndGlyphs" stroke="#1c1c1c" stroke-width="0.3">6,288.00</text>
<path d="M1436 163h54a2 2 0 0 1 2 2v12a2 2 0 0 1 -2 2h-54z" fill="#089981"/>
<text x="1443.2" y="173.9" font-size="11" fill="#fff" font-weight="bold" text-anchor="start" textLength="43.6" lengthAdjust="spacingAndGlyphs" >6,263.71</text>
<clipPath id="tc"><rect x="0" y="739" width="1434.5" height="28"/></clipPath><g clip-path="url(#tc)">
<text x="0.6" y="755.7" font-size="12" fill="#1c1c1c" font-weight="normal" text-anchor="middle" textLength="27.5" lengthAdjust="spacingAndGlyphs" stroke="#1c1c1c" stroke-width="0.3">21:30</text>
<text x="54.0" y="755.7" font-size="12" fill="#1c1c1c" font-weight="normal" text-anchor="middle" textLength="27.5" lengthAdjust="spacingAndGlyphs" stroke="#1c1c1c" stroke-width="0.3">21:45</text>
<text x="107.5" y="755.7" font-size="12" fill="#1c1c1c" font-weight="normal" text-anchor="middle" textLength="27.5" lengthAdjust="spacingAndGlyphs" stroke="#1c1c1c" stroke-width="0.3">22:00</text>
<text x="160.9" y="755.7" font-size="12" fill="#1c1c1c" font-weight="normal" text-anchor="middle" textLength="27.5" lengthAdjust="spacingAndGlyphs" stroke="#1c1c1c" stroke-width="0.3">22:15</text>
<text x="215.2" y="755.7" font-size="12" fill="#1c1c1c" font-weight="normal" text-anchor="middle" textLength="27.5" lengthAdjust="spacingAndGlyphs" stroke="#1c1c1c" stroke-width="0.3">22:30</text>
<text x="268.7" y="755.7" font-size="12" fill="#1c1c1c" font-weight="normal" text-anchor="middle" textLength="27.5" lengthAdjust="spacingAndGlyphs" stroke="#1c1c1c" stroke-width="0.3">22:45</text>
<text x="322.1" y="755.7" font-size="12" fill="#1c1c1c" font-weight="normal" text-anchor="middle" textLength="27.5" lengthAdjust="spacingAndGlyphs" stroke="#1c1c1c" stroke-width="0.3">23:00</text>
<text x="375.5" y="755.7" font-size="12" fill="#1c1c1c" font-weight="normal" text-anchor="middle" textLength="27.5" lengthAdjust="spacingAndGlyphs" stroke="#1c1c1c" stroke-width="0.3">23:15</text>
<text x="428.9" y="755.7" font-size="12" fill="#1c1c1c" font-weight="normal" text-anchor="middle" textLength="27.5" lengthAdjust="spacingAndGlyphs" stroke="#1c1c1c" stroke-width="0.3">23:30</text>
<text x="482.4" y="755.7" font-size="12" fill="#1c1c1c" font-weight="normal" text-anchor="middle" textLength="27.5" lengthAdjust="spacingAndGlyphs" stroke="#1c1c1c" stroke-width="0.3">23:45</text>
<text x="536.7" y="755.7" font-size="12" fill="#1c1c1c" font-weight="bold" text-anchor="middle" textLength="12.5" lengthAdjust="spacingAndGlyphs" >17</text>
<text x="590.1" y="755.7" font-size="12" fill="#1c1c1c" font-weight="normal" text-anchor="middle" textLength="27.5" lengthAdjust="spacingAndGlyphs" stroke="#1c1c1c" stroke-width="0.3">00:15</text>
<text x="643.6" y="755.7" font-size="12" fill="#1c1c1c" font-weight="normal" text-anchor="middle" textLength="27.5" lengthAdjust="spacingAndGlyphs" stroke="#1c1c1c" stroke-width="0.3">00:30</text>
<text x="697.0" y="755.7" font-size="12" fill="#1c1c1c" font-weight="normal" text-anchor="middle" textLength="27.5" lengthAdjust="spacingAndGlyphs" stroke="#1c1c1c" stroke-width="0.3">00:45</text>
<text x="750.4" y="755.7" font-size="12" fill="#1c1c1c" font-weight="normal" text-anchor="middle" textLength="27.5" lengthAdjust="spacingAndGlyphs" stroke="#1c1c1c" stroke-width="0.3">01:00</text>
<text x="803.8" y="755.7" font-size="12" fill="#1c1c1c" font-weight="normal" text-anchor="middle" textLength="27.5" lengthAdjust="spacingAndGlyphs" stroke="#1c1c1c" stroke-width="0.3">01:15</text>
<text x="858.2" y="755.7" font-size="12" fill="#1c1c1c" font-weight="normal" text-anchor="middle" textLength="27.5" lengthAdjust="spacingAndGlyphs" stroke="#1c1c1c" stroke-width="0.3">01:30</text>
<text x="911.6" y="755.7" font-size="12" fill="#1c1c1c" font-weight="normal" text-anchor="middle" textLength="27.5" lengthAdjust="spacingAndGlyphs" stroke="#1c1c1c" stroke-width="0.3">01:45</text>
<text x="965.0" y="755.7" font-size="12" fill="#1c1c1c" font-weight="normal" text-anchor="middle" textLength="27.5" lengthAdjust="spacingAndGlyphs" stroke="#1c1c1c" stroke-width="0.3">02:00</text>
<text x="1018.5" y="755.7" font-size="12" fill="#1c1c1c" font-weight="normal" text-anchor="middle" textLength="27.5" lengthAdjust="spacingAndGlyphs" stroke="#1c1c1c" stroke-width="0.3">02:15</text>
<text x="1071.9" y="755.7" font-size="12" fill="#1c1c1c" font-weight="normal" text-anchor="middle" textLength="27.5" lengthAdjust="spacingAndGlyphs" stroke="#1c1c1c" stroke-width="0.3">02:30</text>
<text x="1125.3" y="755.7" font-size="12" fill="#1c1c1c" font-weight="normal" text-anchor="middle" textLength="27.5" lengthAdjust="spacingAndGlyphs" stroke="#1c1c1c" stroke-width="0.3">02:45</text>
<text x="1179.7" y="755.7" font-size="12" fill="#1c1c1c" font-weight="normal" text-anchor="middle" textLength="27.5" lengthAdjust="spacingAndGlyphs" stroke="#1c1c1c" stroke-width="0.3">03:00</text>
<text x="1233.1" y="755.7" font-size="12" fill="#1c1c1c" font-weight="normal" text-anchor="middle" textLength="27.5" lengthAdjust="spacingAndGlyphs" stroke="#1c1c1c" stroke-width="0.3">03:15</text>
<text x="1286.5" y="755.7" font-size="12" fill="#1c1c1c" font-weight="normal" text-anchor="middle" textLength="27.5" lengthAdjust="spacingAndGlyphs" stroke="#1c1c1c" stroke-width="0.3">03:30</text>
<text x="1339.9" y="755.7" font-size="12" fill="#1c1c1c" font-weight="normal" text-anchor="middle" textLength="27.5" lengthAdjust="spacingAndGlyphs" stroke="#1c1c1c" stroke-width="0.3">03:45</text>
<text x="1426.2" y="755.7" font-size="12" fill="#1c1c1c" font-weight="normal" text-anchor="middle" textLength="27.5" lengthAdjust="spacingAndGlyphs" stroke="#1c1c1c" stroke-width="0.3">21:30</text>
</g>
<rect x="7" y="25" width="173" height="34" fill="#fff"/>
<circle cx="16.5" cy="10.9" r="8.7" fill="#C3102E"/>
<text x="16.5" y="13.5" font-size="7" fill="#fff" font-weight="bold" text-anchor="middle" textLength="13.2" lengthAdjust="spacingAndGlyphs" >500</text>
<text x="28.2" y="17.1" font-size="15" fill="#1c1c1c" font-weight="normal" text-anchor="start" textLength="95.3" lengthAdjust="spacingAndGlyphs" >S&amp;P 500 Index</text>
<rect x="127.8" y="10.7" width="2.2" height="2.2" rx="0.5" fill="#1c1c1c"/><rect x="146.8" y="10.7" width="2.2" height="2.2" rx="0.5" fill="#1c1c1c"/>
<path d="M138.2 16.9V6.2h1.55V16.9zM138.9 6.2L135.8 8.6v1.5l3.1-2.3z" fill="#1c1c1c"/>
<text x="153.5" y="17.1" font-size="15" fill="#1c1c1c" font-weight="normal" text-anchor="start" textLength="16.3" lengthAdjust="spacingAndGlyphs" >SP</text>
<path d="M197 3h11v16h-11a8 8 0 0 1 0-16z" fill="#EBEBEB"/>
<path d="M208 3h11a8 8 0 0 1 0 16h-11z" fill="#FCE4EC"/>
<rect x="195" y="8.8" width="10.3" height="4.4" rx="2.2" fill="#A3A3A3"/>
<path d="M213.3 10.2c1.4-1.6 2.8-1.6 4.1-0.6s2.6 1 3.9-0.5M213.3 13.6c1.4-1.6 2.8-1.6 4.1-0.6s2.6 1 3.9-0.5" fill="none" stroke="#E91E63" stroke-width="1.5" stroke-linecap="round"/>
<text x="240.4" y="15" font-size="12.3" fill="#1c1c1c" font-weight="normal" text-anchor="start" textLength="9" lengthAdjust="spacingAndGlyphs" >O</text>
<text x="250.2" y="15" font-size="12" fill="#089981" font-weight="normal" text-anchor="start" textLength="47" lengthAdjust="spacingAndGlyphs" >6,263.71</text>
<text x="303.3" y="15" font-size="12.3" fill="#1c1c1c" font-weight="normal" text-anchor="start" textLength="8" lengthAdjust="spacingAndGlyphs" >H</text>
<text x="311.8" y="15" font-size="12" fill="#089981" font-weight="normal" text-anchor="start" textLength="47" lengthAdjust="spacingAndGlyphs" >6,263.71</text>
<text x="365.3" y="15" font-size="12.3" fill="#1c1c1c" font-weight="normal" text-anchor="start" textLength="6" lengthAdjust="spacingAndGlyphs" >L</text>
<text x="372" y="15" font-size="12" fill="#089981" font-weight="normal" text-anchor="start" textLength="47" lengthAdjust="spacingAndGlyphs" >6,263.71</text>
<text x="424.8" y="15" font-size="12.3" fill="#1c1c1c" font-weight="normal" text-anchor="start" textLength="7.5" lengthAdjust="spacingAndGlyphs" >C</text>
<text x="433" y="15" font-size="12" fill="#089981" font-weight="normal" text-anchor="start" textLength="47" lengthAdjust="spacingAndGlyphs" >6,263.71</text>
<text x="486.5" y="15" font-size="12" fill="#089981" font-weight="normal" text-anchor="start" textLength="28.5" lengthAdjust="spacingAndGlyphs" >+0.01</text>
<text x="520.6" y="15" font-size="12" fill="#089981" font-weight="normal" text-anchor="start" textLength="45.2" lengthAdjust="spacingAndGlyphs" >(+0.00%)</text>
<rect x="7.5" y="26.5" width="67" height="31" rx="4.5" fill="#fff" stroke="#F23645"/>
<rect x="109.5" y="26.5" width="67" height="31" rx="4.5" fill="#fff" stroke="#2962FF"/>
<text x="17" y="40.8" font-size="10.8" fill="#F23645" font-weight="normal" text-anchor="start" textLength="47" lengthAdjust="spacingAndGlyphs" stroke="#F23645" stroke-width="0.25">6,263.71</text>
<text x="29.6" y="52.9" font-size="9.8" fill="#F23645" font-weight="normal" text-anchor="start" textLength="22.4" lengthAdjust="spacingAndGlyphs" >SELL</text>
<text x="119.2" y="41" font-size="10.8" fill="#2962FF" font-weight="normal" text-anchor="start" textLength="47" lengthAdjust="spacingAndGlyphs" stroke="#2962FF" stroke-width="0.25">6,263.71</text>
<text x="133" y="52.7" font-size="9.8" fill="#2962FF" font-weight="normal" text-anchor="start" textLength="19" lengthAdjust="spacingAndGlyphs" >BUY</text>
<text x="82.5" y="45" font-size="9" fill="#1c1c1c" font-weight="normal" text-anchor="start" textLength="18.8" lengthAdjust="spacingAndGlyphs" >0.00</text>
<g transform="translate(10,708.8) scale(0.789)" fill="#161616"><path d="M14 22H7V11H0V4h14v18zM28 22h-8l7.5-18h8L28 22z"/><circle cx="20" cy="8" r="4"/></g>
<text x="45" y="725.9" font-size="20" fill="#161616" font-weight="bold" text-anchor="start" textLength="113.5" lengthAdjust="spacingAndGlyphs" >TradingView</text>
<circle cx="1398" cy="727" r="10.6" fill="#fff"/><circle cx="1422.7" cy="726.6" r="11" fill="#fff"/>
<path d="M1406.78 724.84A9.15 9.15 0 1 1 1400.58 718.30" fill="none" stroke="#9C27B0" stroke-width="1.5" stroke-linecap="round"/>
<path d="M1400.5 722.7L1394.3 727.3H1401.6L1395.1 731.9" fill="none" stroke="#9C27B0" stroke-width="1.45" stroke-linejoin="round" stroke-linecap="round"/>
<circle cx="1404.5" cy="720.6" r="2.55" fill="#F23645"/>
<clipPath id="fl"><circle cx="1422.7" cy="726.6" r="8"/></clipPath>
<circle cx="1422.7" cy="726.6" r="9.65" fill="#fff" stroke="#F7525F" stroke-width="1.5"/>
<g clip-path="url(#fl)"><rect x="1414" y="718" width="18" height="18" fill="#fff"/>
<rect x="1424.5" y="719.6" width="8" height="2.9" fill="#F05350"/><rect x="1424.5" y="725" width="8" height="3.6" fill="#F05350"/><rect x="1414" y="731" width="18" height="3.8" fill="#F05350"/>
<rect x="1414" y="718" width="10.5" height="10.6" fill="#2F8DE4"/>
<rect x="1415.8" y="720.75" width="1.3" height="0.8" fill="#fff" opacity="0.8"/>
<rect x="1418.0" y="720.75" width="1.3" height="0.8" fill="#fff" opacity="0.8"/>
<rect x="1420.2" y="720.75" width="1.3" height="0.8" fill="#fff" opacity="0.8"/>
<rect x="1422.3" y="720.75" width="1.3" height="0.8" fill="#fff" opacity="0.8"/>
<rect x="1415.8" y="723.25" width="1.3" height="0.8" fill="#fff" opacity="0.8"/>
<rect x="1418.0" y="723.25" width="1.3" height="0.8" fill="#fff" opacity="0.8"/>
<rect x="1420.2" y="723.25" width="1.3" height="0.8" fill="#fff" opacity="0.8"/>
<rect x="1422.3" y="723.25" width="1.3" height="0.8" fill="#fff" opacity="0.8"/>
<rect x="1415.8" y="725.85" width="1.3" height="0.8" fill="#fff" opacity="0.8"/>
<rect x="1418.0" y="725.85" width="1.3" height="0.8" fill="#fff" opacity="0.8"/>
<rect x="1420.2" y="725.85" width="1.3" height="0.8" fill="#fff" opacity="0.8"/>
<rect x="1422.3" y="725.85" width="1.3" height="0.8" fill="#fff" opacity="0.8"/>
</g>
<path d="M1459.3 752.6l3.6-6.2h7.2l3.6 6.2-3.6 6.2h-7.2z" fill="none" stroke="#4A4A4A" stroke-width="1.3" stroke-linejoin="round"/><circle cx="1466.5" cy="752.6" r="1.8" fill="none" stroke="#4A4A4A" stroke-width="1.2"/>
</svg></body></html>
